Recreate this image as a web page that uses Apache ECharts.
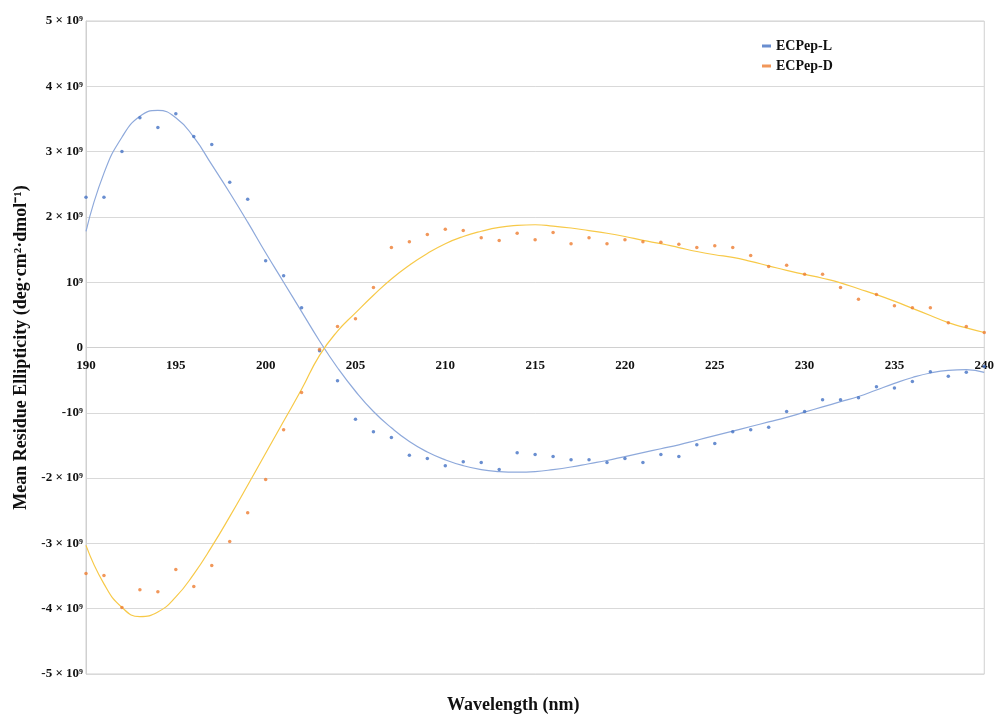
<!DOCTYPE html>
<html>
<head>
<meta charset="utf-8">
<script src="https://cdn.jsdelivr.net/npm/echarts@6/dist/echarts.min.js"></script>
<style>html,body{margin:0;padding:0;background:#fff}#c{width:997px;height:716px}</style>
</head>
<body>
<div id="c"></div>
<script>
// wavelengths (nm)
var wavelengths = [190,191,192,193,194,195,196,197,198,199,200,201,202,203,204,205,206,207,208,209,210,211,212,213,214,215,216,217,218,219,220,221,222,223,224,225,226,227,228,229,230,231,232,233,234,235,236,237,238,239,240];
// measured points, units of 1e9
var ecpepL = [2.30,2.30,3.00,3.52,3.37,3.58,3.23,3.11,2.53,2.27,1.33,1.10,0.61,-0.05,-0.51,-1.10,-1.29,-1.38,-1.65,-1.70,-1.81,-1.75,-1.76,-1.87,-1.61,-1.64,-1.67,-1.72,-1.72,-1.76,-1.70,-1.76,-1.64,-1.67,-1.49,-1.47,-1.29,-1.26,-1.22,-0.98,-0.98,-0.80,-0.80,-0.77,-0.60,-0.62,-0.52,-0.37,-0.44,-0.38,-0.29];
var ecpepD = [-3.46,-3.49,-3.98,-3.71,-3.74,-3.40,-3.66,-3.34,-2.97,-2.53,-2.02,-1.26,-0.69,-0.03,0.32,0.44,0.92,1.53,1.62,1.73,1.81,1.79,1.68,1.64,1.75,1.65,1.76,1.59,1.68,1.59,1.65,1.62,1.61,1.58,1.53,1.56,1.53,1.41,1.24,1.26,1.12,1.12,0.92,0.74,0.81,0.64,0.61,0.61,0.38,0.32,0.23];
// fitted trend curves, units of 1e9
var fitL = [1.78,2.67,3.22,3.54,3.63,3.52,3.22,2.80,2.37,1.92,1.45,1.00,0.55,0.10,-0.31,-0.67,-0.98,-1.23,-1.44,-1.60,-1.72,-1.81,-1.87,-1.90,-1.91,-1.90,-1.87,-1.83,-1.78,-1.73,-1.67,-1.61,-1.55,-1.49,-1.42,-1.35,-1.28,-1.21,-1.14,-1.07,-0.99,-0.91,-0.83,-0.75,-0.65,-0.55,-0.46,-0.39,-0.35,-0.34,-0.38];
var fitD = [-3.03,-3.62,-3.98,-4.12,-4.05,-3.82,-3.47,-3.05,-2.59,-2.11,-1.62,-1.13,-0.64,-0.12,0.25,0.53,0.80,1.05,1.26,1.44,1.59,1.70,1.78,1.84,1.87,1.88,1.86,1.83,1.79,1.75,1.70,1.64,1.59,1.53,1.47,1.42,1.38,1.32,1.25,1.18,1.12,1.06,0.99,0.90,0.81,0.71,0.60,0.49,0.38,0.30,0.23];
var yTickLabels = {"5":"5 × 10⁹","4":"4 × 10⁹","3":"3 × 10⁹","2":"2 × 10⁹","1":"10⁹","0":"0","-1":"-10⁹","-2":"-2 × 10⁹","-3":"-3 × 10⁹","-4":"-4 × 10⁹","-5":"-5 × 10⁹"};

function pairs(xs, ys){ return xs.map(function(x,i){ return [x, ys[i]]; }); }

var chart = echarts.init(document.getElementById('c'), null, {renderer:'canvas'});
var serif = '"Liberation Serif","Times New Roman",serif';
chart.setOption({
  animation:false,
  backgroundColor:'#fff',
  grid:{left:86,right:9,top:21,bottom:42,show:true,borderColor:'#d0d0d0',borderWidth:1},
  legend:{
    data:['ECPep-L','ECPep-D'],
    orient:'vertical', left:757, top:34, itemGap:6,
    icon:'rect', itemWidth:9, itemHeight:3,
    textStyle:{fontFamily:serif,fontWeight:'bold',fontSize:14,color:'#111'}
  },
  xAxis:{
    type:'value', min:190, max:240, interval:5,
    position:'bottom', offset:-326.5,
    axisLine:{onZero:false,lineStyle:{color:'#d0d0d0'}},
    axisTick:{show:false},
    splitLine:{show:false},
    axisLabel:{fontFamily:serif,fontWeight:'bold',fontSize:13,color:'#111',margin:12}
  },
  yAxis:{
    type:'value', min:-5, max:5, interval:1,
    name:'Mean Residue Ellipticity (deg·cm²·dmol⁻¹)',
    nameLocation:'middle', nameGap:53,
    nameTextStyle:{fontFamily:serif,fontWeight:'bold',fontSize:18,color:'#111'},
    axisLine:{show:true,lineStyle:{color:'#d0d0d0'}},
    axisTick:{show:false},
    splitLine:{lineStyle:{color:'#d9d9d9'}},
    axisLabel:{fontFamily:serif,fontWeight:'bold',fontSize:13,color:'#111',margin:3,
      formatter:function(v){ return yTickLabels[String(Math.round(v))]; }}
  },
  graphic:[{type:'text',left:447,top:696,style:{text:'Wavelength (nm)',font:'bold 18px '+serif,fill:'#111'}}],
  series:[
    {name:'fitL',type:'line',data:pairs(wavelengths,fitL),smooth:0.5,showSymbol:false,
     lineStyle:{color:'#8ea9db',width:1.2},z:2,silent:true},
    {name:'fitD',type:'line',data:pairs(wavelengths,fitD),smooth:0.5,showSymbol:false,
     lineStyle:{color:'#f7c948',width:1.2},z:2,silent:true},
    {name:'ECPep-L',type:'scatter',data:pairs(wavelengths,ecpepL),symbolSize:3.5,
     itemStyle:{color:'#4472c4'},z:3},
    {name:'ECPep-D',type:'scatter',data:pairs(wavelengths,ecpepD),symbolSize:3.5,
     itemStyle:{color:'#ed7d31'},z:3}
  ]
});
</script>
</body>
</html>
